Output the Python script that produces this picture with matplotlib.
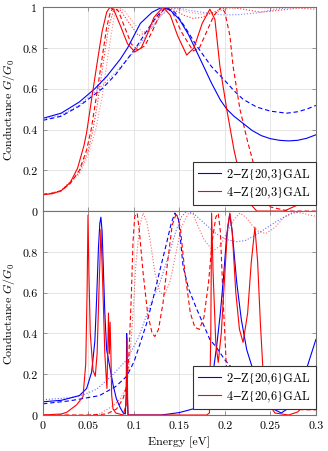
import matplotlib
matplotlib.use("Agg")
import matplotlib.pyplot as plt

plt.rcParams['font.family'] = 'serif'
plt.rcParams['font.serif'] = ['cmr10']
plt.rcParams['mathtext.fontset'] = 'cm'
plt.rcParams['axes.unicode_minus'] = False
plt.rcParams['axes.formatter.use_mathtext'] = True

# ---- top panel: Z{20,3} ----
t_bs_x = [0, 0.02, 0.04, 0.057, 0.07, 0.085, 0.093, 0.107, 0.12, 0.131, 0.14, 0.15, 0.16, 0.167, 0.175,
          0.185, 0.195, 0.202, 0.21, 0.22, 0.23, 0.24, 0.25, 0.26, 0.27, 0.28, 0.29, 0.30]
t_bs_y = [0.455, 0.48, 0.535, 0.6, 0.66, 0.745, 0.8, 0.92, 0.975, 1.0, 0.985, 0.94, 0.865, 0.8, 0.725,
          0.63, 0.545, 0.5, 0.465, 0.43, 0.395, 0.37, 0.355, 0.347, 0.344, 0.347, 0.357, 0.374]

t_bd_x = [0, 0.02, 0.04, 0.065, 0.08, 0.102, 0.115, 0.125, 0.135, 0.145, 0.155, 0.169, 0.185, 0.202,
          0.21, 0.22, 0.235, 0.25, 0.268, 0.28, 0.29, 0.30]
t_bd_y = [0.445, 0.465, 0.515, 0.6, 0.67, 0.8, 0.89, 0.955, 1.0, 0.975, 0.91, 0.81, 0.71, 0.63,
          0.59, 0.548, 0.51, 0.49, 0.48, 0.487, 0.5, 0.518]

t_bo_x = [0, 0.02, 0.04, 0.06, 0.08, 0.1, 0.115, 0.13, 0.14, 0.15, 0.16, 0.175, 0.19, 0.2, 0.215,
          0.235, 0.25, 0.265, 0.28, 0.3]
t_bo_y = [0.45, 0.47, 0.52, 0.595, 0.68, 0.78, 0.87, 0.96, 0.995, 0.995, 0.985, 0.975, 0.965, 0.962,
          0.963, 0.972, 0.985, 0.995, 1.0, 1.0]

t_rs_x = [0, 0.01, 0.02, 0.03, 0.038, 0.045, 0.048, 0.0535, 0.06, 0.065, 0.07, 0.0736, 0.078, 0.085,
          0.093, 0.101, 0.108, 0.115, 0.122, 0.132, 0.14, 0.148, 0.158, 0.166, 0.175, 0.1835, 0.189,
          0.1945, 0.202, 0.21, 0.218, 0.225, 0.235, 0.25, 0.265, 0.28, 0.29, 0.3]
t_rs_y = [0.08, 0.085, 0.1, 0.14, 0.21, 0.32, 0.385, 0.55, 0.74, 0.88, 0.975, 1.0, 0.985, 0.91,
          0.82, 0.78, 0.8, 0.87, 0.95, 1.0, 0.96, 0.86, 0.765, 0.8, 0.92, 0.99, 0.94,
          0.71, 0.5, 0.3, 0.14, 0.05, 0.0, 0.0, 0.0, 0.03, 0.08, 0.17]

t_rd_x = [0, 0.01, 0.02, 0.03, 0.04, 0.048, 0.053, 0.058, 0.064, 0.07, 0.074, 0.078, 0.083, 0.09,
          0.097, 0.104, 0.112, 0.12, 0.128, 0.135, 0.143, 0.152, 0.165, 0.172, 0.18, 0.188, 0.196,
          0.2, 0.2055, 0.209, 0.2165, 0.225, 0.231, 0.24, 0.25, 0.27, 0.3]
t_rd_y = [0.083, 0.087, 0.1, 0.135, 0.2, 0.3, 0.4, 0.54, 0.72, 0.9, 0.975, 1.0, 0.98, 0.9,
          0.82, 0.79, 0.81, 0.88, 0.96, 1.0, 0.97, 0.88, 0.785, 0.8, 0.88, 0.96, 1.0,
          0.974, 0.86, 0.71, 0.5, 0.34, 0.24, 0.1, 0.02, 0.0, 0.0]

t_ro_x = [0, 0.02, 0.04, 0.05, 0.055, 0.06, 0.066, 0.072, 0.078, 0.085, 0.095, 0.105, 0.115, 0.125,
          0.135, 0.145, 0.155, 0.165, 0.175, 0.185, 0.195, 0.205, 0.22, 0.24, 0.26, 0.28, 0.3]
t_ro_y = [0.08, 0.1, 0.19, 0.3, 0.4, 0.53, 0.72, 0.9, 0.99, 0.985, 0.92, 0.86, 0.88, 0.95,
          0.995, 0.985, 0.96, 0.945, 0.95, 0.97, 0.99, 1.0, 0.99, 0.975, 0.985, 0.995, 0.99]

t_rl_x = [0, 0.02, 0.04, 0.05, 0.058, 0.065, 0.072, 0.078, 0.083, 0.09, 0.1, 0.11, 0.12, 0.13, 0.137,
          0.145, 0.16, 0.175, 0.19, 0.2, 0.22, 0.25, 0.28, 0.3]
t_rl_y = [0.08, 0.095, 0.18, 0.28, 0.4, 0.56, 0.78, 0.95, 1.0, 0.98, 0.92, 0.875, 0.9, 0.96, 0.995,
          0.995, 0.975, 0.965, 0.975, 0.99, 1.0, 0.995, 1.0, 1.0]

# ---- bottom panel: Z{20,6} ----
b_bs_x = [0, 0.02, 0.04, 0.048, 0.0535, 0.057, 0.059, 0.061, 0.0625, 0.0637, 0.065, 0.0663, 0.068,
          0.07, 0.0773, 0.0807, 0.085, 0.088, 0.0905, 0.0915, 0.092, 0.0925, 0.0935, 0.1, 0.13,
          0.15, 0.165, 0.175, 0.183, 0.188, 0.191, 0.195, 0.198, 0.202, 0.2053, 0.208, 0.213, 0.218,
          0.224, 0.231, 0.238, 0.245, 0.253, 0.262, 0.272, 0.282, 0.29, 0.3]
b_bs_y = [0.065, 0.072, 0.095, 0.13, 0.21, 0.36, 0.57, 0.82, 0.94, 0.97, 0.9, 0.73, 0.5,
          0.32, 0.143, 0.08, 0.035, 0.012, 0.005, 0.1, 0.4, 0.12, 0.0, 0.0, 0.0,
          0.012, 0.03, 0.06, 0.14, 0.24, 0.34, 0.5, 0.65, 0.88, 0.985, 0.9, 0.65, 0.47,
          0.32, 0.22, 0.14, 0.08, 0.03, 0.01, 0.04, 0.14, 0.23, 0.37]

b_bd_x = [0, 0.03, 0.062, 0.08, 0.092, 0.1, 0.106, 0.114, 0.121, 0.128, 0.136, 0.141, 0.145, 0.149,
          0.154, 0.16, 0.169, 0.1835, 0.191, 0.2, 0.209, 0.218, 0.227, 0.236, 0.246, 0.255, 0.264,
          0.275, 0.287, 0.3]
b_bd_y = [0.055, 0.07, 0.095, 0.14, 0.19, 0.26, 0.34, 0.45, 0.57, 0.7, 0.845, 0.94, 0.99, 0.96,
          0.73, 0.62, 0.52, 0.37, 0.33, 0.27, 0.225, 0.18, 0.14, 0.12, 0.11, 0.112, 0.127,
          0.15, 0.19, 0.24]

b_bo_x = [0, 0.03, 0.045, 0.059, 0.075, 0.092, 0.105, 0.118, 0.1286, 0.138, 0.146, 0.152, 0.158,
          0.165, 0.18, 0.19, 0.202, 0.213, 0.222, 0.231, 0.245, 0.257, 0.267, 0.275, 0.285, 0.3]
b_bo_y = [0.075, 0.085, 0.1, 0.127, 0.19, 0.27, 0.38, 0.54, 0.65, 0.78, 0.9, 0.97, 1.0,
          0.99, 0.93, 0.89, 0.86, 0.85, 0.855, 0.875, 0.915, 0.95, 0.975, 0.99, 1.0, 1.0]

b_rs_x = [0, 0.02, 0.026, 0.037, 0.044, 0.047, 0.0485, 0.0495, 0.0505, 0.052, 0.055, 0.0575, 0.0595,
          0.0615, 0.0637, 0.066, 0.068, 0.0703, 0.0712, 0.072, 0.073, 0.0738, 0.0747, 0.0755, 0.077,
          0.08, 0.088, 0.0915, 0.0925, 0.093, 0.0935, 0.0945, 0.1, 0.15, 0.18, 0.183, 0.1845, 0.1854,
          0.187, 0.19, 0.1927, 0.196, 0.2, 0.203, 0.2055, 0.208, 0.212, 0.216, 0.22, 0.225, 0.229,
          0.233, 0.236, 0.239, 0.242, 0.247, 0.255, 0.27, 0.28, 0.29, 0.3]
b_rs_y = [0, 0.005, 0.013, 0.05, 0.09, 0.25, 0.6, 0.98, 0.7, 0.4, 0.22, 0.19, 0.3,
          0.6, 0.91, 0.6, 0.3, 0.13, 0.3, 0.5, 0.3, 0.455, 0.3, 0.1, 0.03,
          0.01, 0.0, 0.05, 0.38, 0.1, 0.0, 0.0, 0.0, 0.0, 0.0, 0.01, 0.4, 0.99,
          0.7, 0.35, 0.258, 0.4, 0.7, 0.92, 0.99, 0.9, 0.6, 0.42, 0.356, 0.5, 0.75,
          0.92, 0.75, 0.45, 0.21, 0.06, 0.01, 0.0, 0.015, 0.06, 0.15]

b_rd_x = [0, 0.05, 0.07, 0.081, 0.088, 0.092, 0.0945, 0.097, 0.099, 0.1009, 0.1036, 0.106, 0.11,
          0.115, 0.12, 0.123, 0.127, 0.132, 0.137, 0.142, 0.1467, 0.151, 0.156, 0.162, 0.167, 0.172,
          0.177, 0.182, 0.186, 0.19, 0.1927, 0.195, 0.198, 0.2015, 0.2055, 0.21, 0.22, 0.246, 0.3]
b_rd_y = [0, 0.0, 0.005, 0.03, 0.08, 0.14, 0.3, 0.57, 0.85, 0.975, 0.99, 0.9, 0.7,
          0.5, 0.4, 0.385, 0.42, 0.55, 0.75, 0.93, 0.99, 0.92, 0.7, 0.5, 0.43, 0.42,
          0.48, 0.65, 0.85, 0.97, 0.99, 0.9, 0.57, 0.25, 0.08, 0.04, 0.03, 0.03, 0.025]

b_ro_x = [0, 0.05, 0.062, 0.077, 0.085, 0.092, 0.0956, 0.099, 0.102, 0.106, 0.11, 0.114, 0.118,
          0.123, 0.1286, 0.134, 0.14, 0.146, 0.152, 0.16, 0.165, 0.17, 0.177, 0.187, 0.195, 0.203,
          0.21, 0.2165, 0.223, 0.23, 0.237, 0.245, 0.255, 0.265, 0.275, 0.285, 0.293, 0.3]
b_ro_y = [0, 0.0, 0.005, 0.045, 0.08, 0.14, 0.29, 0.5, 0.73, 0.92, 0.99, 0.95, 0.85,
          0.7, 0.6, 0.59, 0.66, 0.79, 0.92, 0.99, 0.985, 0.93, 0.86, 0.805, 0.83, 0.9,
          0.96, 0.99, 0.97, 0.93, 0.9, 0.89, 0.92, 0.97, 0.995, 0.99, 0.98, 0.975]

x_ticks = [0, 0.05, 0.1, 0.15, 0.2, 0.25, 0.3]
x_labels = ['0', '0.05', '0.1', '0.15', '0.2', '0.25', '0.3']
y_ticks = [0, 0.2, 0.4, 0.6, 0.8, 1]
top_ylabels = ['0', '0.2', '0.4', '0.6', '0.8', '1']
bot_ylabels = ['0', '0.2', '0.4', '0.6', '0.8', '']

BLUE = '#0000ff'
RED = '#ff0000'
lw = 0.8
fs = 8.6

fig, (ax1, ax2) = plt.subplots(2, 1, figsize=(3.28, 4.52), dpi=100)
fig.subplots_adjust(left=0.131, right=0.963, top=0.982, bottom=0.0796, hspace=0)

# top
ax1.plot(t_bo_x, t_bo_y, color=BLUE, lw=lw, ls=':', alpha=0.5)
ax1.plot(t_ro_x, t_ro_y, color=RED, lw=lw, ls=':', alpha=0.8)
ax1.plot(t_rl_x, t_rl_y, color=RED, lw=lw, ls=':', alpha=0.45)
ax1.plot(t_bd_x, t_bd_y, color=BLUE, lw=lw, ls=(0, (4, 2.5)))
ax1.plot(t_rd_x, t_rd_y, color=RED, lw=lw, ls=(0, (4, 2.5)))
ax1.plot(t_bs_x, t_bs_y, color=BLUE, lw=lw, label=r'2$-$Z$\{$20,3$\}$GAL')
ax1.plot(t_rs_x, t_rs_y, color=RED, lw=lw, label=r'4$-$Z$\{$20,3$\}$GAL')

# bottom
ax2.plot(b_bo_x, b_bo_y, color=BLUE, lw=lw, ls=':', alpha=0.6)
ax2.plot(b_ro_x, b_ro_y, color=RED, lw=lw, ls=':', alpha=0.6)
ax2.plot(b_bd_x, b_bd_y, color=BLUE, lw=lw, ls=(0, (4, 2.5)))
ax2.plot(b_rd_x, b_rd_y, color=RED, lw=lw, ls=(0, (4, 2.5)))
ax2.plot(b_bs_x, b_bs_y, color=BLUE, lw=lw, label=r'2$-$Z$\{$20,6$\}$GAL')
ax2.plot(b_rs_x, b_rs_y, color=RED, lw=lw, label=r'4$-$Z$\{$20,6$\}$GAL')

for ax, ylabs in ((ax1, top_ylabels), (ax2, bot_ylabels)):
    ax.set_xlim(0, 0.3)
    ax.set_ylim(0, 1)
    ax.set_xticks(x_ticks)
    ax.set_yticks(y_ticks)
    ax.set_yticklabels(ylabs)
    ax.grid(True, color='#dcdcdc', lw=0.5)
    ax.set_axisbelow(True)
    ax.tick_params(direction='in', top=True, right=True, length=3, width=0.5,
                   color='0.45', labelsize=fs, pad=4)
    for s in ax.spines.values():
        s.set_color('0.45')
        s.set_linewidth(0.8)
    ax.set_ylabel(r'Conductance $G/G_0$', fontsize=fs)
    leg = ax.legend(loc='lower right', bbox_to_anchor=(1.0, 0.03), fontsize=9,
                    fancybox=False, framealpha=1, edgecolor='0.2', handlelength=1.9,
                    handletextpad=0.35, borderaxespad=0, borderpad=0.4, labelspacing=0.2)
    leg.get_frame().set_linewidth(0.8)
    for t in leg.get_texts():
        t.set_math_fontfamily('stix')

ax1.set_xticklabels([])
ax2.set_xticklabels(x_labels)
ax2.set_xlabel('Energy [eV]', fontsize=fs)
fig.align_ylabels([ax1, ax2])

plt.savefig('out.png', dpi=100)
